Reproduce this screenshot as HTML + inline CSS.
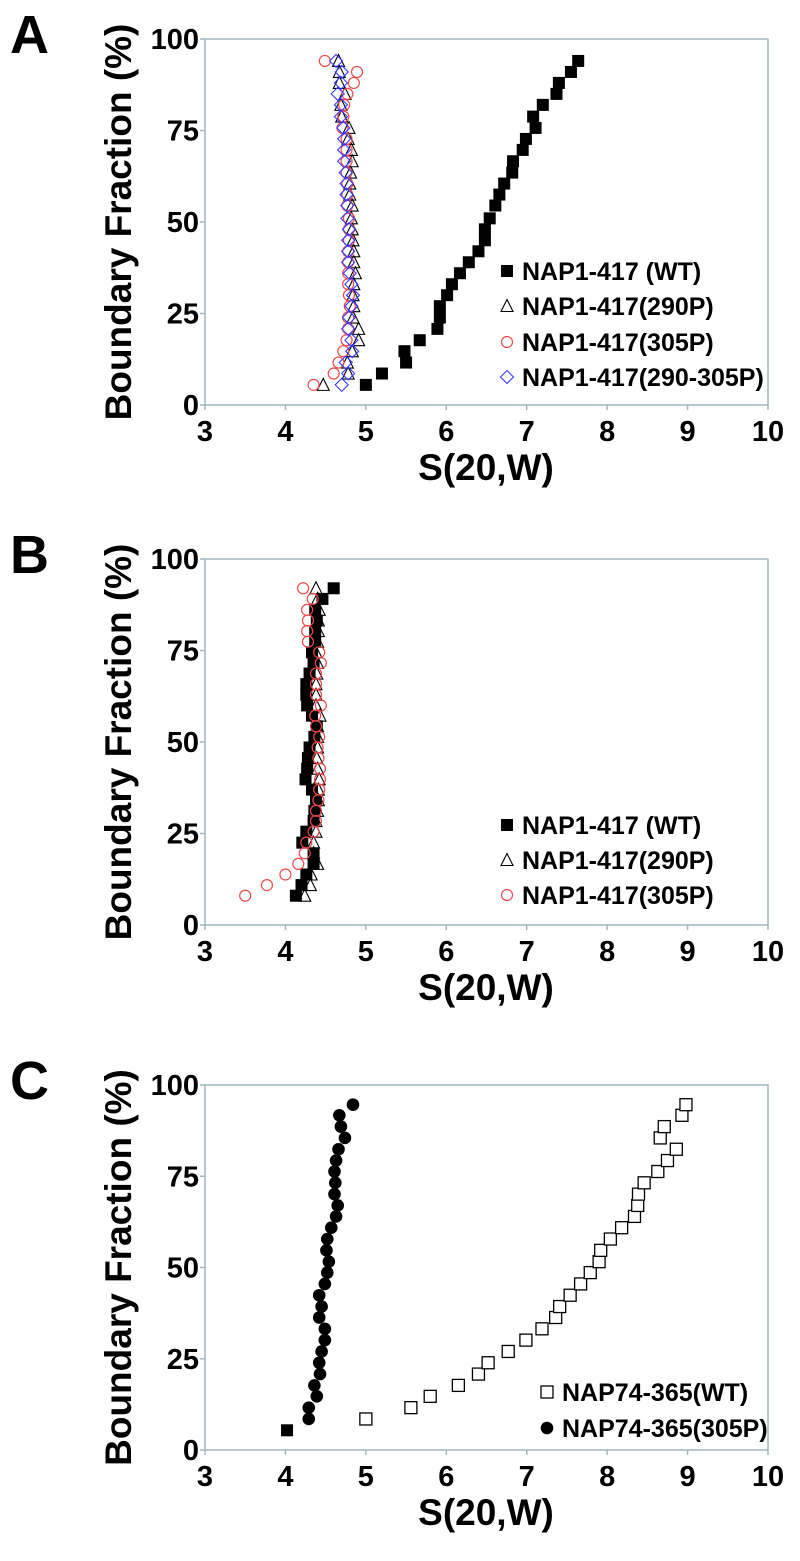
<!DOCTYPE html>
<html><head><meta charset="utf-8"><style>
html,body{margin:0;padding:0;background:#fff}
svg text{font-family:"Liberation Sans",Arial,sans-serif;font-weight:bold;fill:#000}
</style></head><body>
<svg id="fig" width="800" height="1556" viewBox="0 0 800 1556" xmlns="http://www.w3.org/2000/svg"></svg>
<script>
// ---- Data ----
const xTicks = [3,4,5,6,7,8,9,10];
const yTicks = [0,25,50,75,100];
const yA = [5.5,8.6,11.6,14.7,17.7,20.8,23.9,27,30,33,36,39,42,45,48,51,54.5,57.5,60.5,63.5,66.6,69.7,72.7,75.7,78.8,82,85,88,91,94];
const aWT = [5.0,5.2,5.5,5.48,5.67,5.89,5.92,5.92,6.01,6.07,6.17,6.28,6.40,6.48,6.48,6.54,6.61,6.66,6.72,6.82,6.83,6.95,6.99,7.11,7.08,7.20,7.37,7.40,7.55,7.64];
const a290 = [4.47,4.78,4.77,4.83,4.91,4.91,4.84,4.85,4.84,4.85,4.87,4.85,4.85,4.84,4.83,4.82,4.83,4.80,4.80,4.81,4.83,4.82,4.78,4.79,4.70,4.69,4.74,4.67,4.67,4.66];
const a305 = [4.35,4.60,4.66,4.72,4.76,4.78,4.78,4.80,4.79,4.78,4.78,4.78,4.78,4.79,4.79,4.79,4.77,4.77,4.77,4.76,4.76,4.76,4.76,4.71,4.72,4.73,4.77,4.85,4.89,4.49];
const a290305 = [4.70,4.78,4.75,4.83,4.82,4.78,4.79,4.82,4.84,4.82,4.80,4.78,4.78,4.78,4.79,4.77,4.77,4.76,4.76,4.75,4.73,4.73,4.73,4.72,4.69,4.69,4.65,4.69,4.70,4.63];
const yB = [8,10.9,13.8,16.7,19.6,22.5,25.5,28.4,31.2,34.1,37,39.8,42.7,45.6,48.5,51.4,54.3,57.2,60,62.9,65.8,68.7,71.6,74.5,77.4,80.3,83.2,86.1,89.1,92];
const bWT = [4.13,4.20,4.26,4.35,4.35,4.21,4.26,4.35,4.36,4.38,4.33,4.25,4.27,4.28,4.30,4.36,4.39,4.33,4.27,4.26,4.26,4.30,4.35,4.33,4.37,4.37,4.39,4.37,4.46,4.60];
const b290 = [4.24,4.31,4.32,4.40,4.35,4.35,4.38,4.38,4.40,4.41,4.41,4.42,4.40,4.39,4.40,4.40,4.40,4.43,4.38,4.38,4.38,4.39,4.40,4.38,4.40,4.41,4.41,4.42,4.40,4.38];
const b305 = [3.50,3.77,4.00,4.16,4.24,4.26,4.35,4.38,4.38,4.41,4.42,4.43,4.43,4.41,4.40,4.42,4.38,4.37,4.44,4.38,4.38,4.38,4.44,4.42,4.28,4.27,4.28,4.27,4.34,4.22];
const yC305 = [5.4,8.5,11.6,14.7,17.7,20.8,23.9,27,30.1,33.2,36.3,39.3,42.4,45.5,48.6,51.6,54.7,57.8,60.9,64,67,70.1,73.2,76.3,79.3,82.4,85.5,88.6,91.7,94.6];
const c305 = [4.02,4.29,4.29,4.39,4.36,4.43,4.42,4.45,4.49,4.49,4.42,4.45,4.42,4.49,4.52,4.54,4.51,4.52,4.57,4.63,4.65,4.61,4.62,4.61,4.63,4.66,4.74,4.69,4.67,4.84];
const yCWT = [8.5,11.6,14.7,17.7,20.8,23.9,27,30.1,33.2,36.3,39.3,42.4,45.5,48.6,51.6,54.7,57.8,60.9,64,67,70.1,73.2,76.3,79.3,82.4,85.5,88.6,91.7,94.6];
const cWT = [5.0,5.56,5.80,6.15,6.40,6.52,6.77,6.99,7.19,7.36,7.41,7.54,7.67,7.79,7.90,7.92,8.04,8.18,8.34,8.38,8.39,8.46,8.63,8.75,8.86,8.66,8.71,8.93,8.98];

const NS = "http://www.w3.org/2000/svg";
const svg = document.getElementById('fig');
function mk(tag, attrs, parent){
  const e = document.createElementNS(NS, tag);
  for (const k in attrs) e.setAttribute(k, attrs[k]);
  (parent||svg).appendChild(e);
  return e;
}
function txt(s, attrs, parent){ const t = mk('text', attrs, parent); t.textContent = s; return t; }

function marker(g, type, cx, cy){
  let e;
  if (type==='sqf'){ e = mk('rect',{x:cx-6,y:cy-6,width:12,height:12,fill:'#000'},g); }
  else if (type==='sqo'){ e = mk('rect',{x:cx-6,y:cy-6,width:12,height:12,fill:'#fff',stroke:'#000','stroke-width':1.3},g); }
  else if (type==='tri'){ e = mk('polygon',{points:`${cx},${cy-6.5} ${cx-6},${cy+5.5} ${cx+6},${cy+5.5}`,fill:'none',stroke:'#000','stroke-width':1.1},g); }
  else if (type==='cir'){ e = mk('circle',{cx:cx,cy:cy,r:5.5,fill:'none',stroke:'#f04848','stroke-width':1.2},g); }
  else if (type==='dia'){ e = mk('polygon',{points:`${cx},${cy-6.5} ${cx+6.5},${cy} ${cx},${cy+6.5} ${cx-6.5},${cy}`,fill:'none',stroke:'#3a3aff','stroke-width':1.1},g); }
  else if (type==='dot'){ e = mk('circle',{cx:cx,cy:cy,r:6.3,fill:'#000'},g); }
  return e;
}

function panel(id, letter, top, bottom, series, legend, legX, legRows){
  const L = 205, R = 768;
  const g = mk('g',{});
  
  
  const sx = v => L + (v-3)/7*(R-L);
  const sy = v => bottom - v/100*(bottom-top);
  const lt = txt(letter,{x:10,y:top+14,'font-size':54},g);
  
  
  const fr = mk('rect',{x:L,y:top,width:R-L,height:bottom-top,fill:'none',stroke:'#9fb6bf','stroke-width':1.5},g);
  
  
  yTicks.forEach(v=>{
    const y = sy(v);
    mk('line',{x1:L-5,x2:L,y1:y,y2:y,stroke:'#9fb6bf','stroke-width':1.5},g);
    const t = txt(String(v),{x:L-6,y:y+10,'font-size':29,'text-anchor':'end'},g);
    
    
  });
  xTicks.forEach(v=>{
    const x = sx(v);
    mk('line',{x1:x,x2:x,y1:bottom,y2:bottom+5,stroke:'#9fb6bf','stroke-width':1.5},g);
    const t = txt(String(v),{x:x,y:bottom+36,'font-size':29,'text-anchor':'middle'},g);
    
    
  });
  const yt = txt('Boundary Fraction (%)',{x:0,y:0,'font-size':37,'text-anchor':'middle',transform:`translate(131,${(top+bottom)/2+0}) rotate(-90)`},g);
  
  
  const xt = txt('S(20,W)',{x:486,y:bottom+75,'font-size':37,'text-anchor':'middle'},g);
  
  
  series.forEach(s=>{
    const sg = mk('g',{},g);
    
    
    s.xs.forEach((xv,i)=>{
      const type = (s.first && i===0) ? s.first : s.type;
      const m = marker(sg, type, sx(xv), sy(s.ys[i]));
      
      
    });
  });
  legend.forEach((e,i)=>{
    const lg = mk('g',{},g);
    
    
    marker(lg, e.type, legX, legRows[i]);
    txt(e.label,{x:legX+15,y:legRows[i]+9,'font-size':25},lg);
  });
}

panel('a','A',39,405,[
  {name:'wt',type:'sqf',xs:aWT,ys:yA},
  {name:'290p',type:'tri',xs:a290,ys:yA},
  {name:'305p',type:'cir',xs:a305,ys:yA},
  {name:'290-305p',type:'dia',xs:a290305,ys:yA}
],[
  {type:'sqf',label:'NAP1-417 (WT)'},
  {type:'tri',label:'NAP1-417(290P)'},
  {type:'cir',label:'NAP1-417(305P)'},
  {type:'dia',label:'NAP1-417(290-305P)'}
],507,[271,306,342,377]);

panel('b','B',559,925,[
  {name:'wt',type:'sqf',xs:bWT,ys:yB},
  {name:'290p',type:'tri',xs:b290,ys:yB},
  {name:'305p',type:'cir',xs:b305,ys:yB}
],[
  {type:'sqf',label:'NAP1-417 (WT)'},
  {type:'tri',label:'NAP1-417(290P)'},
  {type:'cir',label:'NAP1-417(305P)'}
],507,[825,860,895]);

panel('c','C',1085,1450,[
  {name:'wt',type:'sqo',xs:cWT,ys:yCWT},
  {name:'305p',type:'dot',first:'sqf',xs:c305,ys:yC305}
],[
  {type:'sqo',label:'NAP74-365(WT)'},
  {type:'dot',label:'NAP74-365(305P)'}
],547,[1392,1428]);
</script>
</body></html>
